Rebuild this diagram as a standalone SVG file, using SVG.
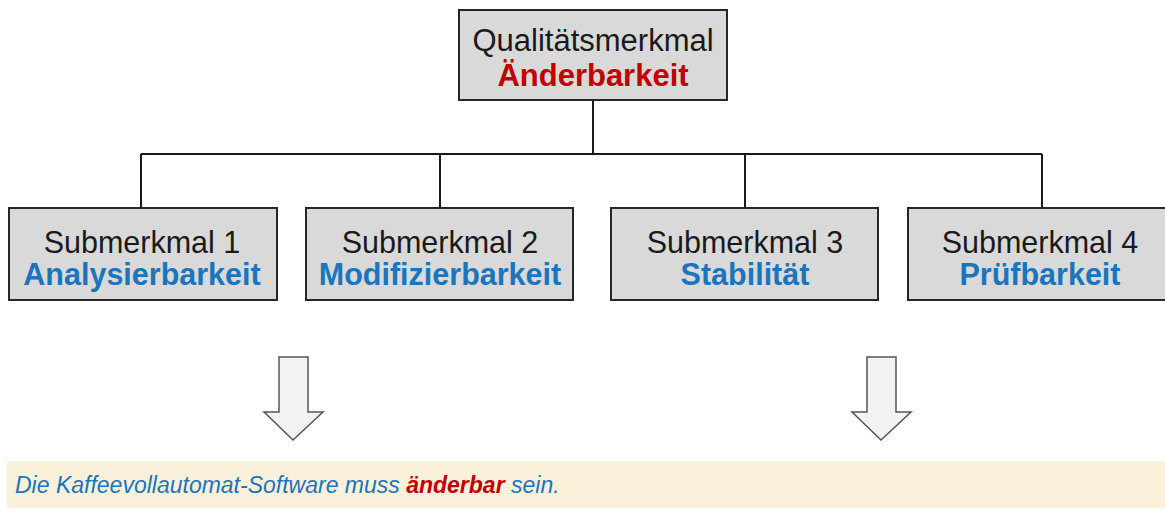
<svg xmlns="http://www.w3.org/2000/svg" width="1165" height="520" viewBox="0 0 1165 520">
<style>
.box{fill:#D9D9D9;stroke:#262626;stroke-width:2}
.t{font-family:"Liberation Sans",Arial,sans-serif;font-size:30.5px;text-anchor:middle;fill:#1a1a1a}
.top{font-size:31px}
.b{font-weight:bold;fill:#1B75BC}
.r{font-weight:bold;fill:#C00000}
.con{fill:none;stroke:#1a1a1a;stroke-width:2}
.arr{fill:#F2F2F2;stroke:#555;stroke-width:1.5}
</style>
<rect width="1165" height="520" fill="#fff"/>
<g id="connectors">
<path class="con" d="M593 100V154M141 154H1042M141 154V208M440 154V208M745 154V208M1042 154V208"/>
</g>
<g id="root">
<rect class="box" x="459" y="10" width="268" height="90"/>
<text class="t top" x="593" y="51">Qualitätsmerkmal</text>
<text class="t top r" x="593" y="86">Änderbarkeit</text>
</g>
<g id="sub1">
<rect class="box" x="9" y="208" width="268" height="92"/>
<text class="t" x="142" y="253">Submerkmal 1</text>
<text class="t b" x="142" y="285">Analysierbarkeit</text>
</g>
<g id="sub2">
<rect class="box" x="306" y="208" width="267" height="92"/>
<text class="t" x="440" y="253">Submerkmal 2</text>
<text class="t b" x="440" y="285">Modifizierbarkeit</text>
</g>
<g id="sub3">
<rect class="box" x="611" y="208" width="267" height="92"/>
<text class="t" x="745" y="253">Submerkmal 3</text>
<text class="t b" x="745" y="285">Stabilität</text>
</g>
<g id="sub4">
<rect class="box" x="908" y="208" width="268" height="92"/>
<text class="t" x="1040" y="253">Submerkmal 4</text>
<text class="t b" x="1040" y="285">Prüfbarkeit</text>
</g>
<g id="arrow1">
<path class="arr" d="M279 357H308V412H323L293 440L264 412H279Z"/>
</g>
<g id="arrow2">
<path class="arr" d="M867 357H896V412H911L881 440L852 412H867Z"/>
</g>
<g id="statement">
<rect x="7" y="461" width="1160" height="47" fill="#FBF0D9"/>
<text x="15" y="493" font-family="'Liberation Sans',Arial,sans-serif" font-size="23" font-style="italic" fill="#1B75BC">Die Kaffeevollautomat-Software muss <tspan font-weight="bold" fill="#C00000">änderbar</tspan> sein.</text>
</g>
</svg>
